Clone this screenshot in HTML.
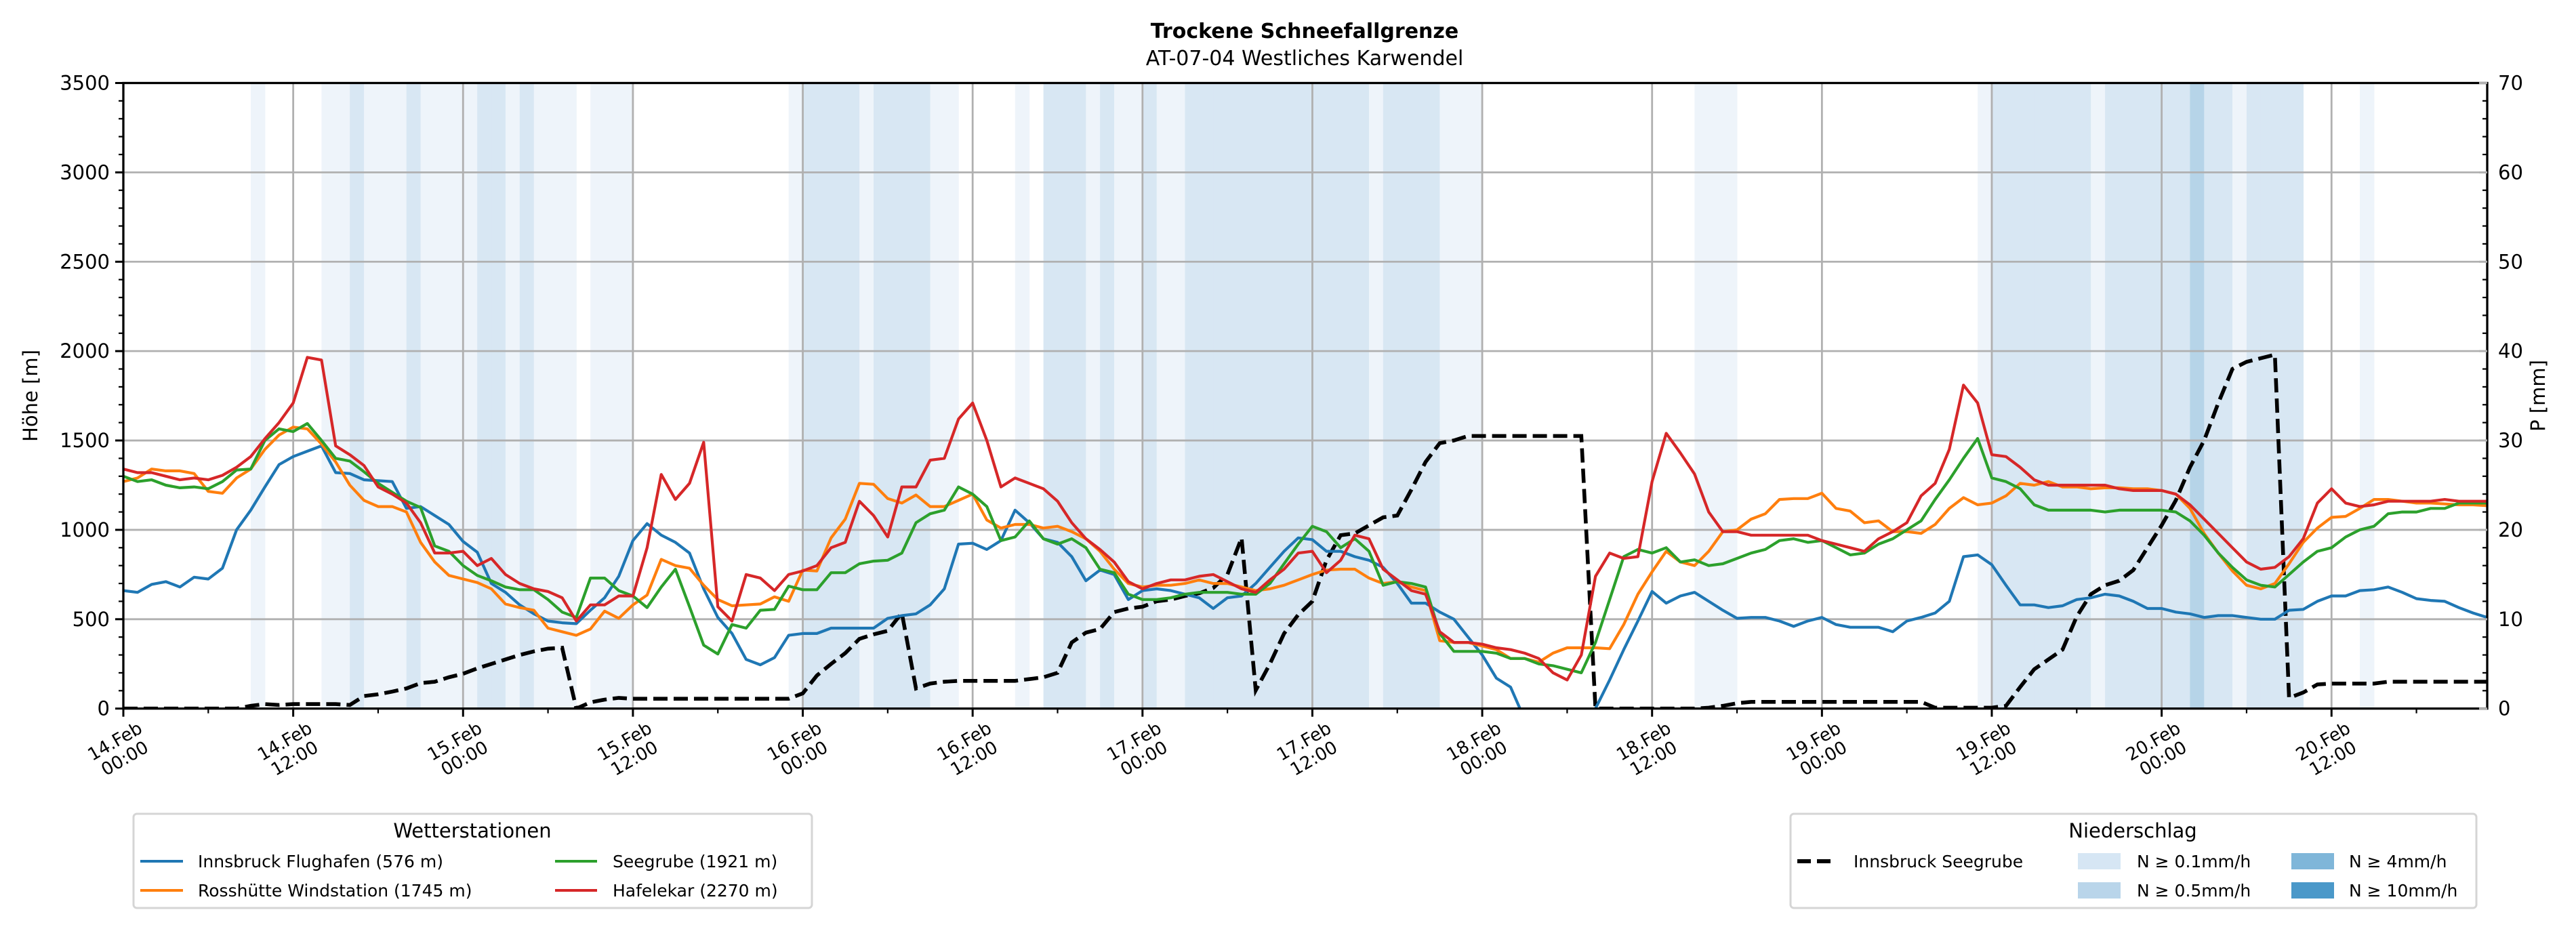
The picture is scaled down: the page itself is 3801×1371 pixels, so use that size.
<!DOCTYPE html>
<html><head><meta charset="utf-8">
<style>
html,body{margin:0;padding:0;background:#fff;}
svg{display:block;font-family:"Liberation Sans","DejaVu Sans",sans-serif;}
</style></head>
<body>
<svg id="chart" width="3801" height="1371" viewBox="0 0 3801 1371" xmlns="http://www.w3.org/2000/svg">
<rect x="0" y="0" width="3801" height="1371" fill="#fff"/>
<text x="1925" y="56" text-anchor="middle" font-size="30" font-weight="bold" font-family="DejaVu Sans, sans-serif">Trockene Schneefallgrenze</text>
<text x="1925" y="96" text-anchor="middle" font-size="30" font-family="DejaVu Sans, sans-serif">AT-07-04 Westliches Karwendel</text>
<defs><clipPath id="plotclip"><rect x="182" y="122" width="3488" height="924"/></clipPath></defs>
<g id="bands" clip-path="url(#plotclip)"></g>
<g id="grid"></g>
<g id="series" clip-path="url(#plotclip)"></g>
<g id="axes"></g>
<text transform="translate(55,584) rotate(-90)" text-anchor="middle" font-size="29" font-family="DejaVu Sans, sans-serif">Höhe [m]</text>
<text transform="translate(3755,584) rotate(-90)" text-anchor="middle" font-size="29" font-family="DejaVu Sans, sans-serif">P [mm]</text>
<g font-family="DejaVu Sans, sans-serif">
<rect x="197" y="1201" width="1001" height="139" rx="5" fill="#fff" stroke="#d5d5d5" stroke-width="3"/>
<text x="697" y="1236" text-anchor="middle" font-size="29">Wetterstationen</text>
<line x1="207" y1="1271" x2="270" y2="1271" stroke="#1f77b4" stroke-width="4"/>
<text x="292" y="1280" font-size="25">Innsbruck Flughafen (576 m)</text>
<line x1="207" y1="1314" x2="270" y2="1314" stroke="#ff7f0e" stroke-width="4"/>
<text x="292" y="1323" font-size="25">Rosshütte Windstation (1745 m)</text>
<line x1="819" y1="1271" x2="881" y2="1271" stroke="#2ca02c" stroke-width="4"/>
<text x="904" y="1280" font-size="25">Seegrube (1921 m)</text>
<line x1="819" y1="1314" x2="881" y2="1314" stroke="#d62728" stroke-width="4"/>
<text x="904" y="1323" font-size="25">Hafelekar (2270 m)</text>
</g>
<g font-family="DejaVu Sans, sans-serif">
<rect x="2642" y="1201" width="1012" height="139" rx="5" fill="#fff" stroke="#d5d5d5" stroke-width="3"/>
<text x="3147" y="1236" text-anchor="middle" font-size="29">Niederschlag</text>
<line x1="2652" y1="1271" x2="2708" y2="1271" stroke="#000" stroke-width="6" stroke-dasharray="20 9"/>
<text x="2735" y="1280" font-size="25">Innsbruck Seegrube</text>
<rect x="3066" y="1259" width="63" height="24" fill="#d6e6f4"/>
<text x="3153" y="1280" font-size="25">N ≥ 0.1mm/h</text>
<rect x="3066" y="1302" width="63" height="24" fill="#b9d5ea"/>
<text x="3153" y="1323" font-size="25">N ≥ 0.5mm/h</text>
<rect x="3381" y="1259" width="63" height="24" fill="#7fb6d9"/>
<text x="3466" y="1280" font-size="25">N ≥ 4mm/h</text>
<rect x="3381" y="1302" width="63" height="24" fill="#4a98c9"/>
<text x="3466" y="1323" font-size="25">N ≥ 10mm/h</text>
</g>
</svg>
<script>
const hours = Array.from({length:168},(_,i)=>i);
const innsbruck = [660,650,695,710,680,735,725,785,1000,1110,1240,1365,1410,1440,1470,1320,1315,1280,1275,1270,1120,1130,1080,1030,935,875,700,650,580,530,490,480,475,550,620,740,940,1035,970,930,870,670,510,420,275,245,285,410,420,420,450,450,450,450,505,520,530,580,670,920,925,890,940,1110,1040,950,930,850,715,775,750,610,660,670,660,640,620,560,620,630,700,790,880,955,945,880,880,850,830,790,700,590,590,540,500,400,300,170,120,-60,-150,-150,-150,-60,0,160,330,490,655,590,630,650,600,550,505,510,510,490,460,490,510,470,455,455,455,430,490,510,535,600,850,860,805,690,580,580,565,575,610,620,640,630,600,560,560,540,530,510,520,520,510,500,500,550,555,600,630,630,660,665,680,650,615,605,600,565,535,510];
const rosshuette = [1270,1290,1340,1330,1330,1315,1215,1205,1290,1340,1450,1530,1575,1565,1480,1380,1250,1165,1130,1130,1100,930,820,745,725,705,670,585,565,550,450,430,410,445,545,505,580,635,835,800,785,690,610,575,580,585,625,600,775,770,955,1060,1260,1255,1175,1150,1195,1130,1130,1165,1200,1055,1010,1030,1030,1010,1020,990,950,880,780,700,680,690,690,700,720,700,700,680,660,670,690,720,750,775,780,780,730,700,710,680,660,380,370,370,350,330,280,280,260,310,340,340,340,335,470,640,765,880,820,800,880,990,1000,1060,1090,1170,1175,1175,1205,1120,1105,1040,1050,990,990,980,1030,1120,1180,1140,1150,1190,1260,1250,1270,1240,1240,1230,1235,1235,1230,1230,1220,1200,1120,980,870,770,690,670,700,810,930,1010,1070,1075,1120,1170,1170,1160,1150,1150,1145,1140,1140,1135];
const seegrube = [1300,1270,1280,1250,1235,1240,1230,1270,1335,1340,1500,1565,1550,1595,1500,1400,1385,1325,1260,1210,1160,1125,910,880,800,745,715,680,665,665,610,540,510,730,730,660,630,565,680,780,570,355,305,470,450,550,555,685,665,665,760,760,810,825,830,870,1040,1090,1110,1240,1200,1130,940,960,1050,950,920,950,900,780,760,640,610,610,620,640,650,650,650,640,640,700,810,920,1020,990,900,950,880,690,710,700,680,420,320,320,320,310,280,280,250,240,220,200,370,610,850,890,870,900,820,832,800,810,840,870,890,940,950,930,940,900,860,870,920,950,1000,1050,1170,1280,1400,1511,1290,1270,1230,1140,1110,1110,1110,1110,1100,1110,1110,1110,1110,1100,1050,970,870,790,720,690,680,750,820,880,900,960,1000,1020,1090,1100,1100,1120,1120,1150,1150,1150];
const hafelekar = [1340,1320,1320,1300,1280,1290,1280,1305,1350,1410,1510,1600,1710,1965,1950,1470,1420,1360,1240,1200,1150,1040,870,870,880,800,840,750,700,670,655,620,490,580,580,630,630,900,1310,1170,1260,1490,570,490,750,730,660,750,770,800,900,930,1160,1080,960,1240,1240,1390,1400,1620,1710,1500,1240,1290,1260,1230,1160,1040,950,890,820,710,670,700,720,720,740,750,710,670,650,720,780,870,880,760,830,970,950,780,720,660,640,430,370,370,360,340,330,310,280,200,160,300,740,870,840,850,1270,1540,1430,1312,1100,990,990,970,970,970,970,970,940,920,900,880,950,990,1040,1190,1260,1450,1810,1710,1420,1410,1350,1280,1250,1250,1250,1250,1250,1230,1220,1220,1220,1200,1140,1060,980,900,820,780,790,850,950,1150,1230,1150,1130,1140,1160,1160,1160,1160,1170,1160,1160,1160];
const precipSum = [0,0,0,0,0,0,0,0,0,0.3,0.5,0.4,0.5,0.5,0.5,0.5,0.4,1.4,1.6,1.9,2.25,2.85,3.0,3.5,3.9,4.5,5.0,5.5,6.0,6.4,6.7,6.8,0,0.7,1.0,1.2,1.1,1.1,1.1,1.1,1.1,1.1,1.1,1.1,1.1,1.1,1.1,1.1,1.7,3.7,5.0,6.2,7.8,8.3,8.7,10.7,2.25,2.8,3.0,3.1,3.1,3.1,3.1,3.1,3.3,3.5,4.0,7.4,8.5,8.9,10.8,11.2,11.4,12.0,12.2,12.6,12.9,13.5,15.0,19.1,2.05,5.0,8.4,10.5,12.0,16.6,19.4,19.6,20.5,21.4,21.6,24.5,27.6,29.7,30.0,30.5,30.5,30.5,30.5,30.5,30.5,30.5,30.5,30.5,0,0,0,0,0,0,0,0,0.1,0.3,0.6,0.75,0.75,0.75,0.75,0.75,0.75,0.75,0.75,0.75,0.75,0.75,0.75,0.75,0.1,0.1,0.1,0.1,0.1,0.3,2.4,4.4,5.5,6.6,10.3,12.8,13.8,14.3,15.5,18.0,20.5,23.3,27.0,30.0,34.2,38.0,38.8,39.2,39.6,1.2,1.8,2.7,2.8,2.8,2.8,2.8,3.0,3.0,3.0,3.0,3.0,3.0,3.0,3.0,3.0];
const precipClass = [0,0,0,0,0,0,0,0,0,1,0,0,0,0,1,1,2,1,1,1,2,1,1,1,1,2,2,1,2,1,1,1,0,1,1,1,0,0,0,0,0,0,0,0,0,0,0,1,2,2,2,2,1,2,2,2,2,1,1,0,0,0,0,1,0,2,2,2,1,2,1,1,2,1,1,2,2,2,2,2,2,2,2,2,2,2,2,2,1,2,2,2,2,1,1,1,0,0,0,0,0,0,0,0,0,0,0,0,0,0,0,1,1,1,0,0,0,0,0,0,0,0,0,0,0,0,0,0,0,0,0,1,2,2,2,2,2,2,2,1,2,2,2,2,2,2,3,2,2,1,2,2,2,2,0,0,0,0,1,0,0,0,0,0,0,0,0,0];
const yTicks = [0,500,1000,1500,2000,2500,3000,3500];
const pTicks = [0,10,20,30,40,50,60,70];
const xTickHours = [0,12,24,36,48,60,72,84,96,108,120,132,144,156];
const xTickLabels = [["14.Feb","00:00"],["14.Feb","12:00"],["15.Feb","00:00"],["15.Feb","12:00"],["16.Feb","00:00"],["16.Feb","12:00"],["17.Feb","00:00"],["17.Feb","12:00"],["18.Feb","00:00"],["18.Feb","12:00"],["19.Feb","00:00"],["19.Feb","12:00"],["20.Feb","00:00"],["20.Feb","12:00"]];

const X0=182,X1=3670,Y0=1045.7,Y1=122.5,HMAX=167,YMAX=3500,PMAX=70;
const xs=h=>X0+h*(X1-X0)/HMAX;
const ys=m=>Y0-m*(Y0-Y1)/YMAX;
const yp=p=>Y0-p*(Y0-Y1)/PMAX;
const NS="http://www.w3.org/2000/svg";
function mk(tag,attrs,parent){const e=document.createElementNS(NS,tag);for(const k in attrs)e.setAttribute(k,attrs[k]);parent.appendChild(e);return e;}
const bandG=document.getElementById('bands'),gridG=document.getElementById('grid'),serG=document.getElementById('series'),axG=document.getElementById('axes');
const bandColors=[null,'#eef4fa','#d8e7f3','#b6d4e8','#8cbedd'];
precipClass.forEach((c,i)=>{if(!c)return;
 const r=mk('rect',{x:xs(i),y:Y1,width:xs(i+1)-xs(i)+0.5,height:Y0-Y1,fill:bandColors[c]},bandG);
 
 
});
yTicks.forEach(v=>{if(v===0||v===YMAX)return;
 const l=mk('line',{x1:X0,x2:X1,y1:ys(v),y2:ys(v),stroke:'#b0b0b0','stroke-width':2.8},gridG);
 
 
});
xTickHours.forEach(h=>{if(h===0)return;
 const l=mk('line',{x1:xs(h),x2:xs(h),y1:Y1,y2:Y0,stroke:'#b0b0b0','stroke-width':2.8},gridG);
 
 
});
function line(data,color,name,fn,extra){
 const d=data.map((v,i)=>(i?'L':'M')+xs(hours[i]).toFixed(1)+','+fn(v).toFixed(1)).join('');
 const p=mk('path',Object.assign({d:d,fill:'none',stroke:color,'stroke-width':4.2,'stroke-linejoin':'round'},extra||{}),serG);
 
 
}
line(precipSum,'#000','precip-seegrube-line',yp,{'stroke-width':5.6,'stroke-dasharray':'21 9','stroke-linejoin':'miter'});
line(innsbruck,'#1f77b4','innsbruck-flughafen-line',ys);
line(rosshuette,'#ff7f0e','rosshuette-line',ys);
line(seegrube,'#2ca02c','seegrube-line',ys);
line(hafelekar,'#d62728','hafelekar-line',ys);
const fr=mk('rect',{x:X0,y:Y1,width:X1-X0,height:Y0-Y1,fill:'none',stroke:'#000','stroke-width':3.3},axG);


for(let m=0;m<=YMAX;m+=100){const maj=m%500===0;
 mk('line',{x1:X0-(maj?12:7),x2:X0,y1:ys(m),y2:ys(m),stroke:'#000','stroke-width':maj?3:2.2},axG);}
yTicks.forEach(v=>{const t=mk('text',{x:X0-20,y:ys(v)+10,'text-anchor':'end','font-size':29,'font-family':'DejaVu Sans, sans-serif'},axG);t.textContent=v;
 
 });
for(let p=0;p<=PMAX;p+=2){const maj=p%10===0;
 mk('line',{x1:X1-(maj?12:7),x2:X1,y1:yp(p),y2:yp(p),stroke:maj?'#b0b0b0':'#000','stroke-width':maj?3:2.2},axG);}
pTicks.forEach(v=>{const t=mk('text',{x:X1+16,y:yp(v)+10,'text-anchor':'start','font-size':29,'font-family':'DejaVu Sans, sans-serif'},axG);t.textContent=v;
 
 });
for(let h=0;h<=HMAX;h+=6){const maj=h%12===0;
 mk('line',{x1:xs(h),x2:xs(h),y1:Y0,y2:Y0+(maj?12:7),stroke:'#000','stroke-width':maj?3:2.2},axG);}
xTickHours.forEach((h,i)=>{
 const t=mk('text',{transform:`translate(${xs(h)-8},${Y0+56}) rotate(-30)`,'text-anchor':'middle','font-size':26,'font-family':'DejaVu Sans, sans-serif'},axG);
 
 
 const a=mk('tspan',{x:0,y:0},t);a.textContent=xTickLabels[i][0];
 const b=mk('tspan',{x:0,dy:29},t);b.textContent=xTickLabels[i][1];
});
</script>
</body></html>
